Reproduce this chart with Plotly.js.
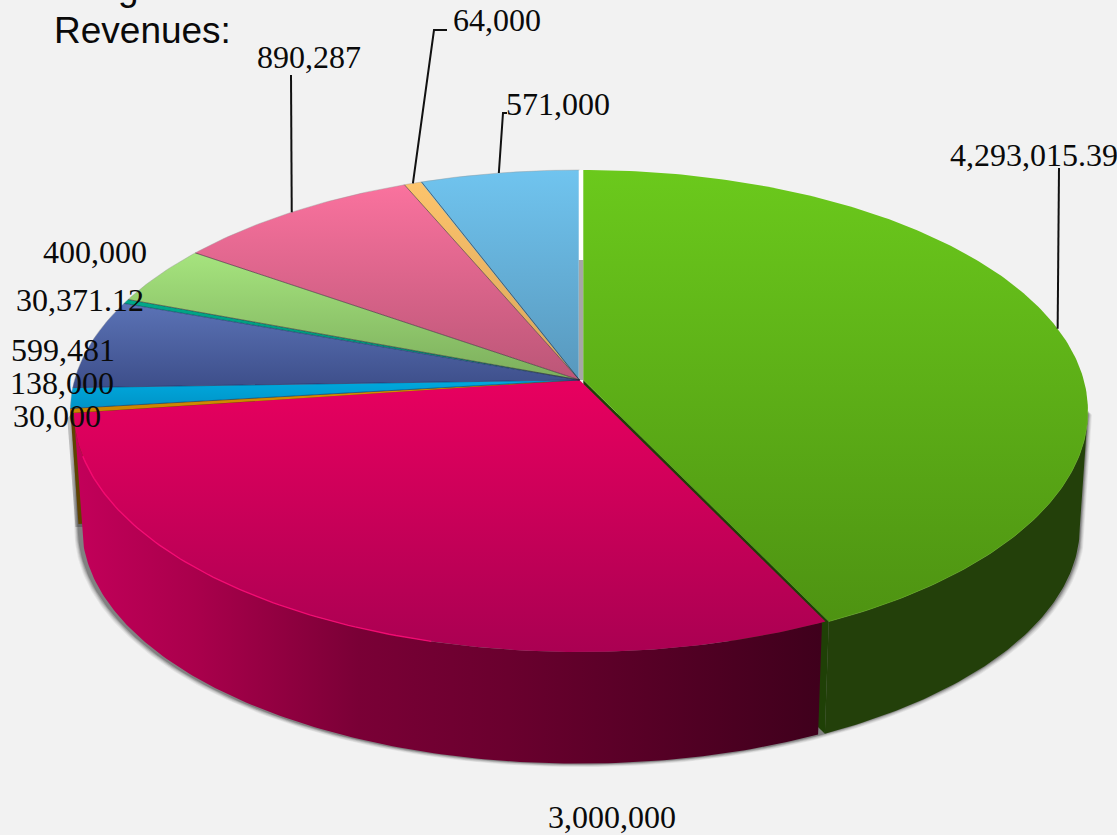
<!DOCTYPE html>
<html>
<head>
<meta charset="utf-8">
<script src="https://cdn.plot.ly/plotly-3.0.1.min.js"></script>
<style>html,body{margin:0;padding:0;background:#f2f2f2;overflow:hidden}</style>
</head>
<body>
<div id="chart" style="width:1117px;height:835px"></div>
<script>
// ---- chart data (clockwise from 12 o'clock) ----
const labels = ["4,293,015.39","3,000,000","30,000","138,000","599,481","30,371.12","400,000","890,287","64,000","571,000"];
const values = [4293015.39,3000000,30000,138000,599481,30371.12,400000,890287,64000,571000];
const topColorA = ["#6bc91c","#e8005f","#dc9200","#00a9de","#5b73b6","#00a98a","#a6e47e","#fa729e","#fdc46c","#70c4ef"];
const topColorB = ["#4e9312","#aa0052","#c88400","#0093c6","#3d4e8a","#008a70","#7cae5c","#bb5677","#d8a45a","#5898bd"];
const labelX = [1034,612,57,62,63,80,95,309,497,558];
const labelY = [155,817,416,383,350,300,252,57,20,104];

// ---- perspective disc ----
const cx = 579.5, cy = 380, a = 505, b = 237, k = 0.1286, s = 0.984, drop = 116;
const offX = [3.8,0,0,0,0,0,0,0,0,-0.8];
const widthScale = [0.991,0.993,1,1,1,1,1,1,1,1];
const total = values.reduce((p,v)=>p+v,0);
const widest = Math.acos(-k)*180/Math.PI;
let acc = 0;
const starts = [], ends = [];
values.forEach(v=>{starts.push(acc/total*360); acc+=v; ends.push(acc/total*360);});

function proj(t,r,i,low){
  const q=t*Math.PI/180, X=r*Math.sin(q), Y=r*Math.cos(q), w=1+k*Y;
  let x=cx+a*(i==null?1:widthScale[i])*X/w, y=cy-b*Y/w;
  if(low){x=cx+(x-cx)*s; y=cy+drop+(y-cy)*s;}
  return [x+(i==null?0:offX[i]), y];
}
function arc(t0,t1,i,low,r){
  const n=Math.max(2,Math.ceil((t1-t0)/0.75)), o=[];
  for(let j=0;j<=n;j++) o.push(proj(t0+(t1-t0)*j/n,r==null?1:r,i,low));
  return o;
}
function poly(pts,extra){
  return Object.assign({type:'scatter',mode:'lines',x:pts.map(p=>p[0]),y:pts.map(p=>p[1]),
    fill:'toself',line:{width:0},hoverinfo:'skip',showlegend:false},extra);
}
function line(pts,color,w){
  return {type:'scatter',mode:'lines',x:pts.map(p=>p[0]),y:pts.map(p=>p[1]),
    line:{color:color,width:w},hoverinfo:'skip',showlegend:false};
}
const traces=[];
// soft drop shadow under the lower rim
[[5,0.06],[4,0.07],[3,0.10],[2,0.14],[1,0.2]].forEach(d=>{
  const outline=arc(widest,widest,0,false).slice(0,1).concat(arc(widest,262,null,true)).concat([proj(262,1,1)]);
  const pts=outline.map(p=>[cx+(p[0]-cx)*(1+d[0]*0.0016),p[1]+d[0]*0.7]);
  traces.push(poly(pts,{fillcolor:'rgba(0,0,0,'+d[1]+')'}));
});
// gap between the pulled-out green slice and the rest
const gapTop=proj(0,1,9), gapApex=proj(0,0,9), gapRight=proj(0,1,0)[0], gapMid=260;
traces.push(poly([gapTop,[gapRight,gapTop[1]],[gapRight,gapMid],[gapTop[0],gapMid]],{fillcolor:'#ffffff'}));
traces.push(poly([[gapTop[0],gapMid],[gapRight,gapMid],[gapRight,gapApex[1]],gapApex],{fillcolor:'#a6a6a6'}));
// shadow + cut face of the thin orange slice
const ie=proj(ends[2],1,2), il=proj(ends[2],1,2,true);
traces.push(poly([[ie[0]-3,ie[1]+10],[il[0]-3,il[1]+3],[il[0]+6,il[1]+3],[ie[0]+6,ie[1]]],{fillcolor:'rgba(0,0,0,0.22)'}));
traces.push(poly([proj(0,0,2),ie,il,proj(0,0,2,true)],{fillcolor:'#5e4200'}));
// green cut face and outer wall
traces.push(poly([proj(0,0,0),proj(ends[0],1,0),proj(ends[0],1,0,true),proj(0,0,0,true)],{fillcolor:'#1f4006'}));
const wallG=arc(widest,ends[0],0,false).concat(arc(widest,ends[0],0,true).reverse());
traces.push(poly(wallG,{fillcolor:'#23400a'}));
// magenta outer wall
const wallM=arc(starts[1]+0.4,ends[1],1,false).concat(arc(starts[1]+0.4,ends[1],1,true).reverse());
traces.push(poly(wallM,{fillgradient:{type:'horizontal',colorscale:[[0,'#c3005a'],[0.16,'#aa004c'],[0.3,'#8c003e'],[0.38,'#7a0036'],[0.58,'#6a002e'],[1,'#3f001c']]}}));
// top faces
values.forEach((v,i)=>{
  const pts=[proj(0,0,i)].concat(arc(starts[i],ends[i],i,false)).concat([proj(0,0,i)]);
  traces.push(poly(pts,{fillgradient:{type:'vertical',colorscale:[[0,topColorB[i]],[1,topColorA[i]]]}}));
});
// thin separators between the rear slices
for(let i=2;i<values.length-1;i++){
  traces.push(line([proj(0,0,i),proj(ends[i],1,i)],i>=5?'rgba(50,40,50,0.65)':'rgba(20,40,90,0.6)',0.9));
}
// rim highlights
traces.push(line(arc(195,252,1,false),'rgba(255,10,120,0.85)',1.4));
traces.push(line(arc(widest,ends[0],0,false),'rgba(120,200,40,0.4)',1));
traces.push(line(arc(ends[2],360,null,false),'rgba(150,150,150,0.5)',0.8));
// leader lines
const elbowX = [1059,null,null,null,null,null,null,291,434,503];
const elbowY = [168,null,null,null,null,null,null,75,30,113];
const tailX  = [null,null,null,null,null,null,null,null,447,507];
labels.forEach((l,i)=>{
  if(elbowX[i]==null) return;
  const m=proj((starts[i]+ends[i])/2,1,i), pts=[m,[elbowX[i],elbowY[i]]];
  if(tailX[i]!=null) pts.push([tailX[i],elbowY[i]]);
  traces.push(line(pts,'#111',2));
});

const annotations = labels.map((l,i)=>({
  text:l,x:labelX[i],y:labelY[i],xref:'x',yref:'y',showarrow:false,xanchor:'center',yanchor:'middle',
  font:{family:'"Liberation Serif",serif',size:32,color:'#0a0a0a'}
}));
annotations.push({text:'Revenues:',x:52,y:30,xref:'x',yref:'y',showarrow:false,xanchor:'left',yanchor:'middle',
  font:{family:'"Liberation Sans",Arial,sans-serif',size:37,color:'#0a0a0a'}});
annotations.push({text:'g',x:128/1117,y:1+13/835,xref:'paper',yref:'paper',showarrow:false,xanchor:'center',yanchor:'middle',
  font:{family:'"Liberation Sans",Arial,sans-serif',size:37,color:'#0a0a0a'}});

const layout={
  width:1117,height:835,margin:{l:0,r:0,t:0,b:0},
  paper_bgcolor:'#f2f2f2',plot_bgcolor:'#f2f2f2',showlegend:false,
  xaxis:{range:[0,1117],visible:false,fixedrange:true},
  yaxis:{range:[835,0],visible:false,fixedrange:true},
  annotations:annotations
};
Plotly.newPlot('chart',traces,layout,{displayModeBar:false,staticPlot:true});
</script>
</body>
</html>
